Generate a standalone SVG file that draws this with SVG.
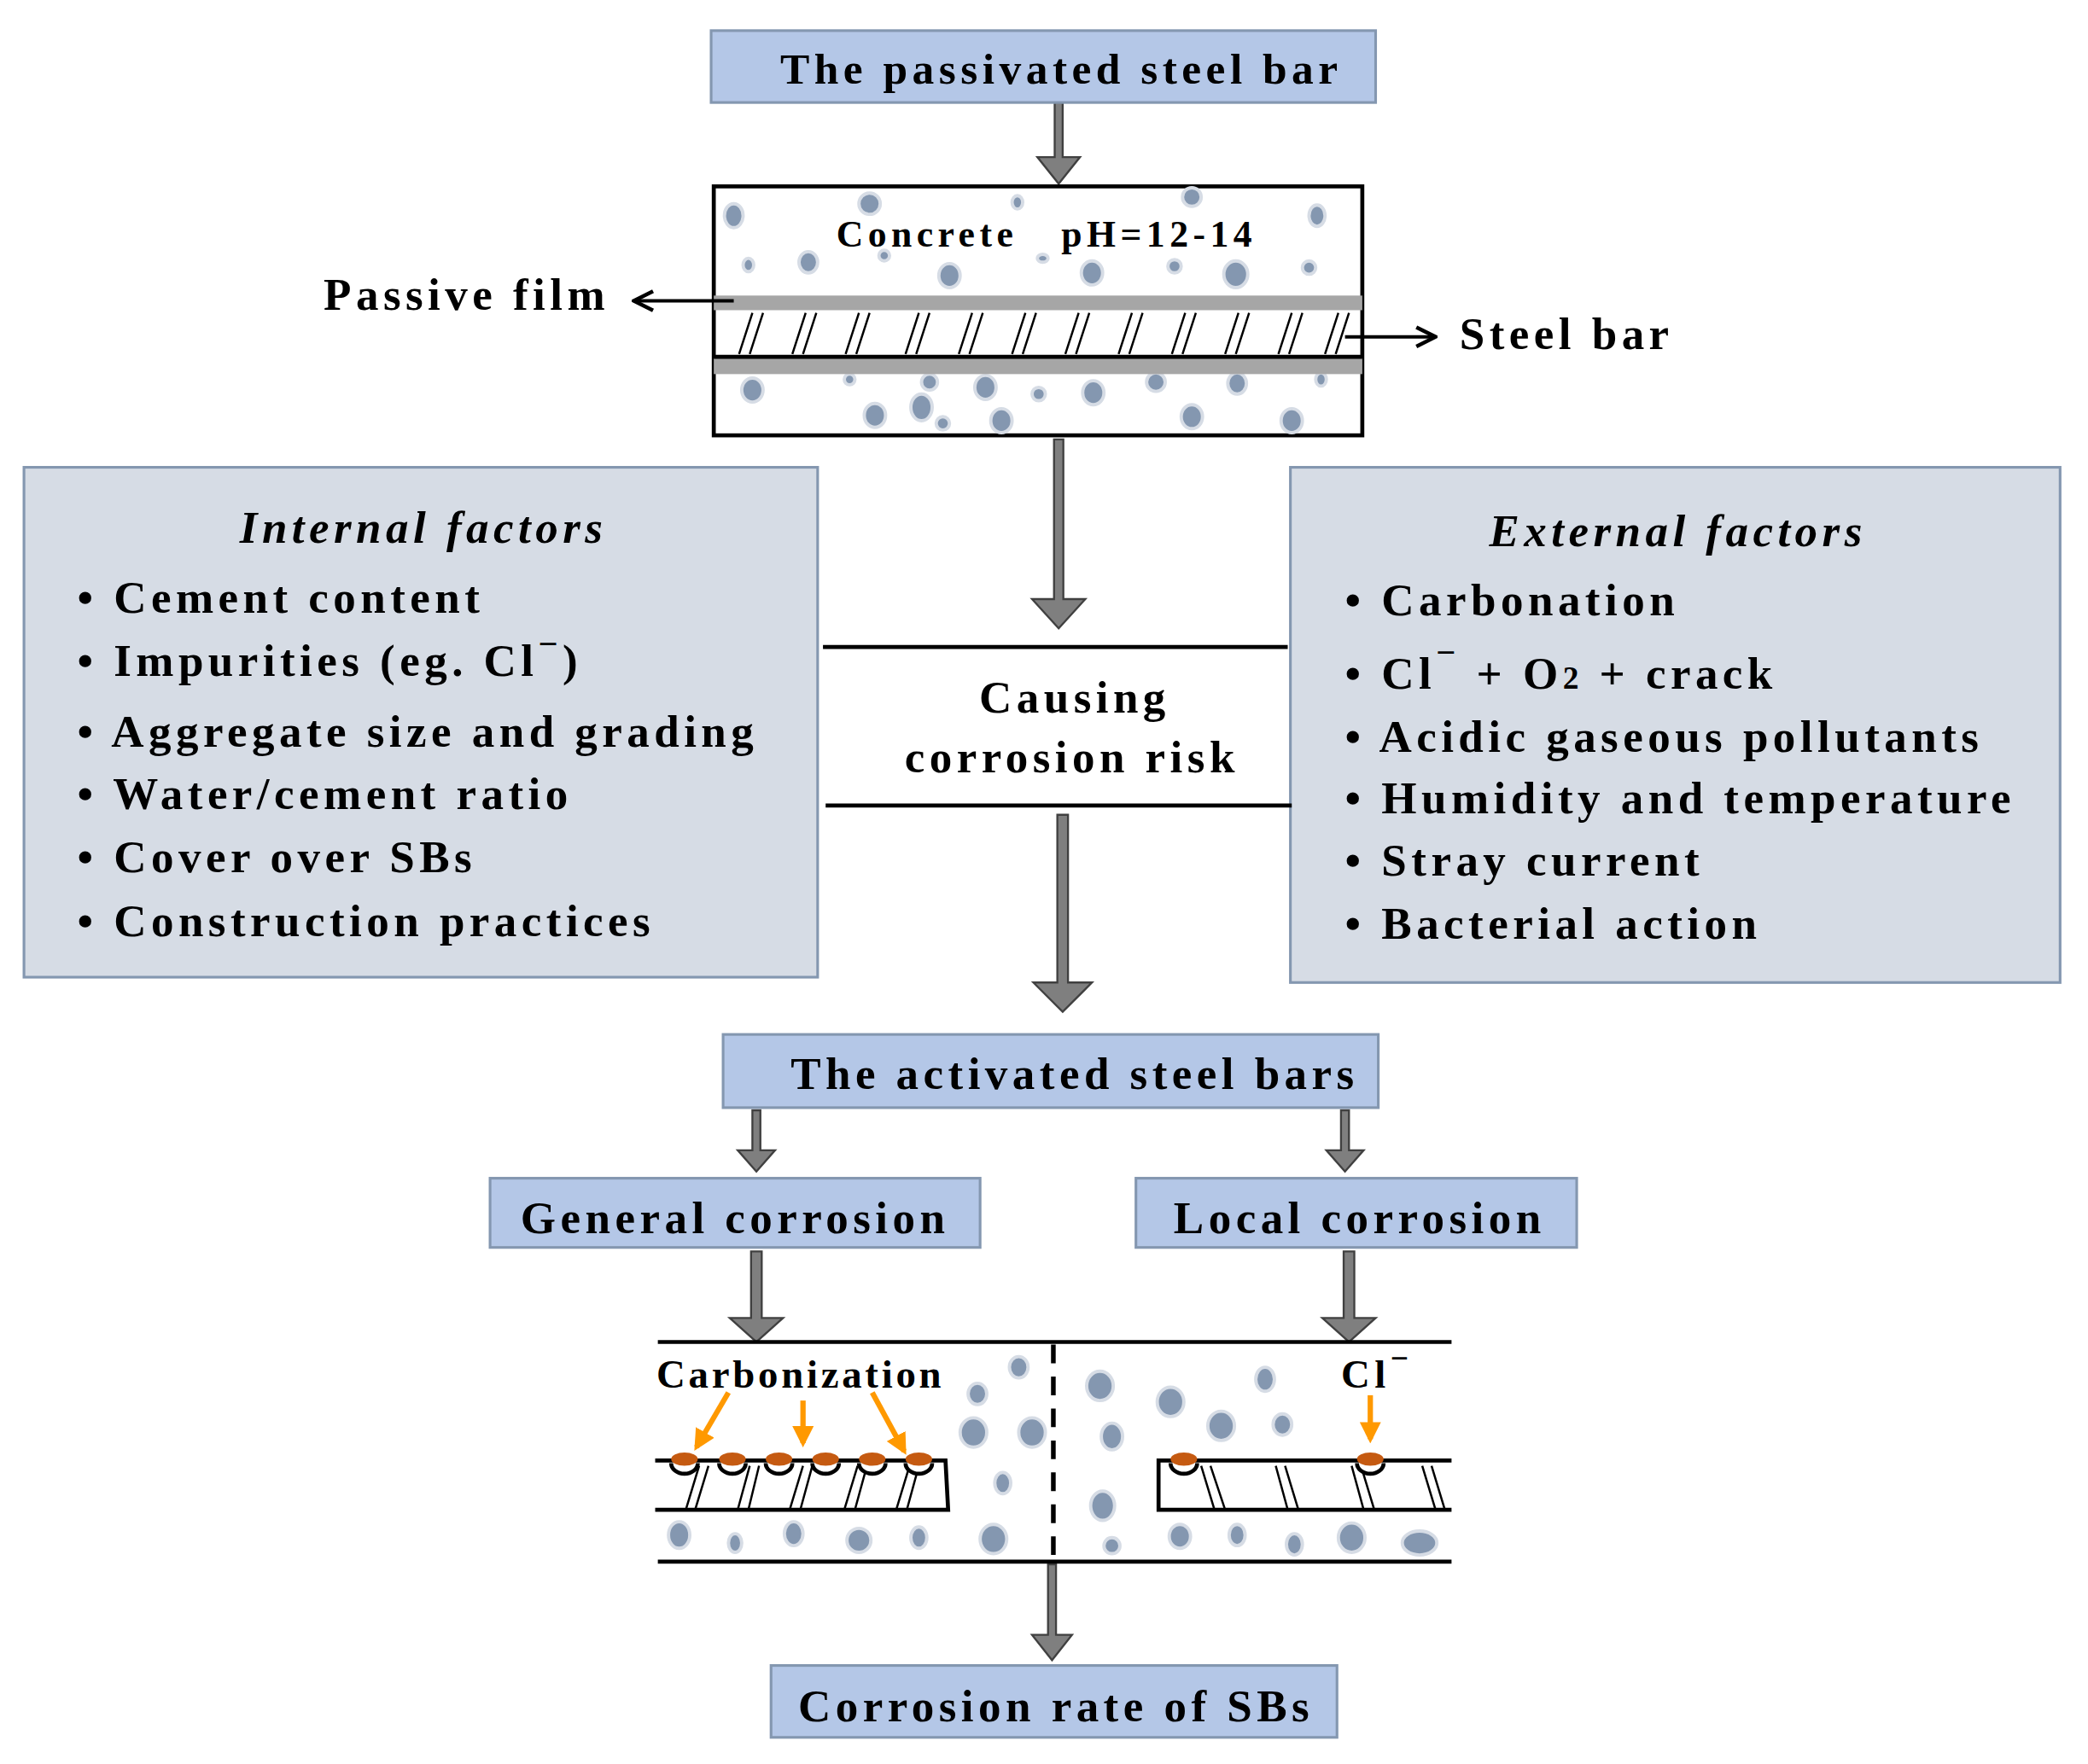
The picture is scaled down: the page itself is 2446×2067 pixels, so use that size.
<svg xmlns="http://www.w3.org/2000/svg" width="2446" height="2067" viewBox="0 0 2446 2067">
<defs>
<style>
.t{font-family:"Liberation Serif","Times New Roman",serif;font-weight:bold;fill:#000;letter-spacing:3.5px}
.blue{fill:#b4c7e7;stroke:#8497b0;stroke-width:2}
.pale{fill:#d6dce5;stroke:#8497b0;stroke-width:2}
.arr{fill:#7f7f7f;stroke:#404040;stroke-width:1.5}
.dot{fill:#8497b0;stroke:#d6dce5;stroke-width:2.5}
.blk{stroke:#000;stroke-width:3;fill:none}
.hat{stroke:#000;stroke-width:1.6;fill:none}
.or{stroke:#ff9900;stroke-width:4;fill:none;marker-end:url(#oh)}
.rust{fill:#c55a11}
</style>
<marker id="oh" viewBox="0 0 10 10" refX="8" refY="5" markerWidth="4" markerHeight="4" orient="auto"><path d="M0,0L10,5L0,10z" fill="#ff9900"/></marker>
<marker id="bh" viewBox="0 0 10 10" refX="9" refY="5" markerWidth="18" markerHeight="18" markerUnits="userSpaceOnUse" orient="auto"><path d="M1,1L9,5L1,9" fill="none" stroke="#000" stroke-width="1.6"/></marker>
</defs>
<rect width="2446" height="2067" fill="#fff"/>
<g transform="scale(1.56)">
<g id="connectors">
<polygon class="arr" points="792,77 798,77 798,118 811,118 795,138 779,118 792,118"/>
<polygon class="arr" points="791.5,330 798.5,330 798.5,450 815,450 795,472 775,450 791.5,450"/>
<polygon class="arr" points="794,612 802,612 802,738 820,738 798,760 776,738 794,738"/>
<polygon class="arr" points="565,834 571,834 571,864 582,864 568,880 554,864 565,864"/>
<polygon class="arr" points="1007,834 1013,834 1013,864 1024,864 1010,880 996,864 1007,864"/>
<polygon class="arr" points="564,940 572,940 572,990 588,990 568,1008 548,990 564,990"/>
<polygon class="arr" points="1009,940 1017,940 1017,990 1033,990 1013,1008 993,990 1009,990"/>
<polygon class="arr" points="787,1175 793,1175 793,1228 805,1228 790,1247 775,1228 787,1228"/>
</g>
<g id="top">
<rect class="blue" x="534" y="23" width="499" height="54"/>
<text class="t" x="797" y="63" font-size="33" text-anchor="middle">The passivated steel  bar</text>
</g>
<g id="concrete">
<rect x="536" y="140" width="487" height="187" fill="#fff" stroke="#000" stroke-width="3"/>
<g class="dot">
<ellipse cx="551" cy="162" rx="7" ry="9"/><ellipse cx="653" cy="153" rx="8" ry="8"/><ellipse cx="764" cy="152" rx="4" ry="5"/><ellipse cx="895" cy="148" rx="7" ry="7"/><ellipse cx="989" cy="162" rx="6" ry="8"/>
<ellipse cx="562" cy="199" rx="4" ry="5"/><ellipse cx="607" cy="197" rx="7" ry="8"/><ellipse cx="664" cy="192" rx="4" ry="4"/><ellipse cx="713" cy="207" rx="8" ry="9"/><ellipse cx="783" cy="194" rx="4" ry="3"/><ellipse cx="820" cy="205" rx="8" ry="9"/><ellipse cx="882" cy="200" rx="5" ry="5"/><ellipse cx="928" cy="206" rx="9" ry="10"/><ellipse cx="983" cy="201" rx="5" ry="5"/>
<ellipse cx="565" cy="293" rx="8" ry="9"/><ellipse cx="638" cy="285" rx="4" ry="4"/><ellipse cx="698" cy="287" rx="6" ry="6"/><ellipse cx="740" cy="291" rx="8" ry="9"/><ellipse cx="780" cy="296" rx="5" ry="5"/><ellipse cx="821" cy="295" rx="8" ry="9"/><ellipse cx="868" cy="287" rx="7" ry="7"/><ellipse cx="929" cy="288" rx="7" ry="8"/><ellipse cx="992" cy="285" rx="4" ry="5"/>
<ellipse cx="657" cy="312" rx="8" ry="9"/><ellipse cx="692" cy="306" rx="8" ry="10"/><ellipse cx="708" cy="318" rx="5" ry="5"/><ellipse cx="752" cy="316" rx="8" ry="9"/><ellipse cx="895" cy="313" rx="8" ry="9"/><ellipse cx="970" cy="316" rx="8" ry="9"/>
</g>
<rect x="536" y="222" width="487" height="11" fill="#a6a6a6"/>
<rect x="536" y="269" width="487" height="12" fill="#a6a6a6"/>
<line class="blk" x1="536" y1="268" x2="1023" y2="268"/>
<path class="hat" d="M555,266L565,235M563,266L573,235M595,266L605,235M603,266L613,235M635,266L645,235M643,266L653,235M680,266L690,235M688,266L698,235M720,266L730,235M728,266L738,235M760,266L770,235M768,266L778,235M800,266L810,235M808,266L818,235M840,266L850,235M848,266L858,235M880,266L890,235M888,266L898,235M920,266L930,235M928,266L938,235M960,266L970,235M968,266L978,235M995,266L1005,235M1003,266L1013,235"/>
<text class="t" x="628" y="185" font-size="28">Concrete</text>
<text class="t" x="797" y="185" font-size="28">pH=12-14</text>
</g>
<g id="passive-film">
<line x1="551" y1="226" x2="476" y2="226" stroke="#000" stroke-width="2.5" marker-end="url(#bh)"/>
<text class="t" x="243" y="233" font-size="34">Passive film</text>
</g>
<g id="steel-bar">
<line x1="1010" y1="253" x2="1078" y2="253" stroke="#000" stroke-width="2.5" marker-end="url(#bh)"/>
<text class="t" x="1096" y="262" font-size="34">Steel bar</text>
</g>
<g id="internal">
<rect class="pale" x="18" y="351" width="596" height="383"/>
<text class="t" x="318" y="408" font-size="34" font-style="italic" text-anchor="middle">Internal factors</text>
<g class="t" font-size="34">
<text x="58" y="460">• Cement content</text>
<text x="58" y="508">• Impurities  (eg. Cl<tspan font-size="26" dy="-16">−</tspan><tspan dy="16">)</tspan></text>
<text x="58" y="561">• Aggregate size and grading</text>
<text x="58" y="608">• Water/cement ratio</text>
<text x="58" y="655">• Cover over SBs</text>
<text x="58" y="703">• Construction practices</text>
</g>
</g>
<g id="external">
<rect class="pale" x="969" y="351" width="578" height="387"/>
<text class="t" x="1260" y="410" font-size="34" font-style="italic" text-anchor="middle">External factors</text>
<g class="t" font-size="34">
<text x="1010" y="462">• Carbonation</text>
<text x="1010" y="517">• Cl<tspan font-size="26" dy="-18">−</tspan><tspan dy="18"> + O</tspan><tspan font-size="24">2</tspan> + crack</text>
<text x="1010" y="565">• Acidic gaseous pollutants</text>
<text x="1010" y="611">• Humidity and temperature</text>
<text x="1010" y="658">• Stray current</text>
<text x="1010" y="705">• Bacterial action</text>
</g>
</g>
<g id="causing">
<line class="blk" x1="618" y1="486" x2="967" y2="486"/>
<line class="blk" x1="620" y1="605" x2="970" y2="605"/>
<text class="t" x="807" y="535" font-size="34" text-anchor="middle">Causing</text>
<text class="t" x="805" y="580" font-size="34" text-anchor="middle">corrosion risk</text>
</g>
<g id="activated">
<rect class="blue" x="543" y="777" width="492" height="55"/>
<text class="t" x="807" y="818" font-size="34" text-anchor="middle">The activated steel  bars</text>
</g>
<g id="general">
<rect class="blue" x="368" y="885" width="368" height="52"/>
<text class="t" x="552" y="926" font-size="34" text-anchor="middle">General corrosion</text>
</g>
<g id="local">
<rect class="blue" x="853" y="885" width="331" height="52"/>
<text class="t" x="1021" y="926" font-size="34" text-anchor="middle">Local corrosion</text>
</g>
<g id="corrosion-panel">
<line class="blk" x1="494" y1="1008" x2="1090" y2="1008" stroke-width="4"/>
<line class="blk" x1="494" y1="1173" x2="1090" y2="1173" stroke-width="4"/>
<line x1="791" y1="1010" x2="791" y2="1173" stroke="#000" stroke-width="3.5" stroke-dasharray="14,10"/>
<g class="dot">
<ellipse cx="765" cy="1027" rx="7" ry="8"/><ellipse cx="734" cy="1047" rx="7" ry="8"/><ellipse cx="731" cy="1076" rx="10" ry="11"/><ellipse cx="775" cy="1076" rx="10" ry="11"/><ellipse cx="753" cy="1114" rx="6" ry="8"/>
<ellipse cx="510" cy="1153" rx="8" ry="10"/><ellipse cx="552" cy="1159" rx="5" ry="7"/><ellipse cx="596" cy="1152" rx="7" ry="9"/><ellipse cx="645" cy="1157" rx="9" ry="9"/><ellipse cx="690" cy="1155" rx="6" ry="8"/><ellipse cx="746" cy="1156" rx="10" ry="11"/>
<ellipse cx="826" cy="1041" rx="10" ry="11"/><ellipse cx="879" cy="1053" rx="10" ry="11"/><ellipse cx="950" cy="1036" rx="7" ry="9"/><ellipse cx="917" cy="1071" rx="10" ry="11"/><ellipse cx="963" cy="1070" rx="7" ry="8"/><ellipse cx="835" cy="1079" rx="8" ry="10"/><ellipse cx="828" cy="1131" rx="9" ry="11"/>
<ellipse cx="835" cy="1161" rx="6" ry="6"/><ellipse cx="886" cy="1154" rx="8" ry="9"/><ellipse cx="929" cy="1153" rx="6" ry="8"/><ellipse cx="972" cy="1160" rx="6" ry="8"/><ellipse cx="1015" cy="1155" rx="10" ry="11"/><ellipse cx="1066" cy="1159" rx="13" ry="9"/>
</g>
<path class="blk" d="M492,1097L710,1097L712,1134L492,1134"/>
<path class="blk" d="M1090,1097L870,1097L870,1134L1090,1134"/>
<path class="hat" d="M525,1101L515,1134M532,1101L522,1134M563,1101L554,1134M570,1101L562,1134M603,1101L593,1134M610,1101L601,1134M644,1101L634,1134M651,1101L642,1134M683,1101L673,1134M690,1101L681,1134"/>
<path class="hat" d="M902,1101L912,1134M909,1101L920,1134M958,1101L967,1134M965,1101L975,1134M1015,1101L1024,1134M1022,1101L1032,1134M1068,1101L1078,1134M1075,1101L1085,1134"/>
<g>
<path d="M504,1099A10,8 0 0 0 524,1099M540,1099A10,8 0 0 0 560,1099M575,1099A10,8 0 0 0 595,1099M610,1099A10,8 0 0 0 630,1099M645,1099A10,8 0 0 0 665,1099M680,1099A10,8 0 0 0 700,1099M879,1099A10,8 0 0 0 899,1099M1019,1099A10,8 0 0 0 1039,1099" fill="#fff" stroke="#000" stroke-width="3"/>
<ellipse class="rust" cx="514" cy="1096" rx="10" ry="5"/><ellipse class="rust" cx="550" cy="1096" rx="10" ry="5"/><ellipse class="rust" cx="585" cy="1096" rx="10" ry="5"/><ellipse class="rust" cx="620" cy="1096" rx="10" ry="5"/><ellipse class="rust" cx="655" cy="1096" rx="10" ry="5"/><ellipse class="rust" cx="690" cy="1096" rx="10" ry="5"/><ellipse class="rust" cx="889" cy="1096" rx="10" ry="5"/><ellipse class="rust" cx="1029" cy="1096" rx="10" ry="5"/>
</g>
<line class="or" x1="547" y1="1046" x2="523" y2="1087"/>
<line class="or" x1="603" y1="1052" x2="603" y2="1084"/>
<line class="or" x1="655" y1="1046" x2="679" y2="1090"/>
<line class="or" x1="1029" y1="1048" x2="1029" y2="1081"/>
<text class="t" x="493" y="1042" font-size="30" style="letter-spacing:2.4px">Carbonization</text>
<text class="t" x="1007" y="1042" font-size="30">Cl<tspan font-size="24" dy="-14">−</tspan></text>
</g>
<g id="rate">
<rect class="blue" x="579" y="1251" width="425" height="54"/>
<text class="t" x="793" y="1293" font-size="34" text-anchor="middle">Corrosion rate of SBs</text>
</g>
</g>
</svg>
